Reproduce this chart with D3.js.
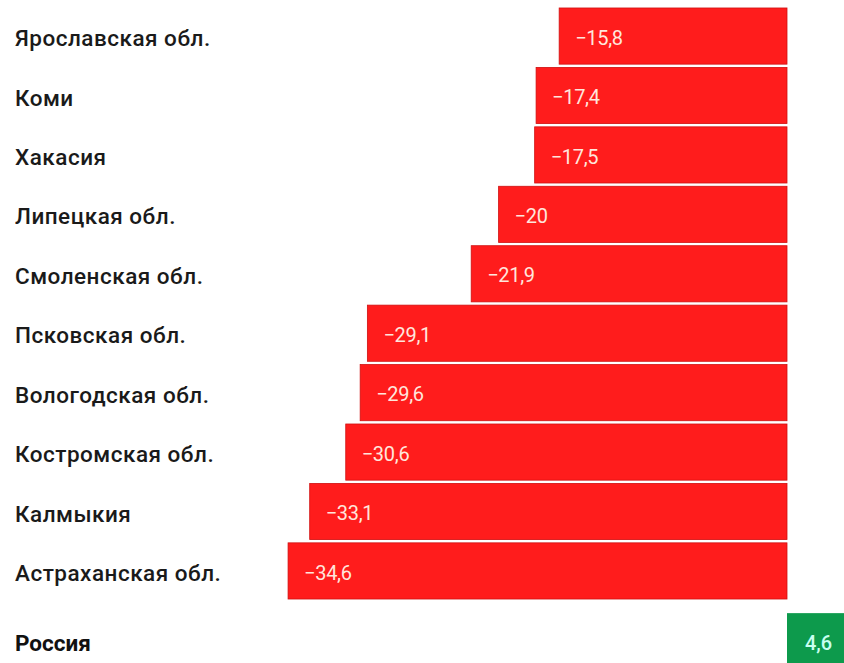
<!DOCTYPE html>
<html><head><meta charset="utf-8">
<script src="https://cdn.jsdelivr.net/npm/d3@7"></script>
<style>
html,body{margin:0;padding:0;background:#fff;}
svg{display:block;}
</style></head>
<body>
<svg id="c" width="844" height="663"></svg>
<script>
const regions = ["Ярославская обл.","Коми","Хакасия","Липецкая обл.","Смоленская обл.","Псковская обл.","Вологодская обл.","Костромская обл.","Калмыкия","Астраханская обл."];
const values = [-15.8,-17.4,-17.5,-20,-21.9,-29.1,-29.6,-30.6,-33.1,-34.6];
const totalLabel = ["Россия"];
const totalValue = [4.6];

const svg = d3.select("#c");
const zeroX = 787, pxPerUnit = 14.42;
const x = d3.scaleLinear().domain([-35, 5]).range([zeroX - 35*pxPerUnit, zeroX + 5*pxPerUnit]);
const y = d3.scaleBand().domain(regions).range([6.5, 6.5 + regions.length*59.4]).paddingInner(0.055).paddingOuter(0.025);
const yT = d3.scaleBand().domain(totalLabel).range([611.5, 611.5 + 59.4]).paddingInner(0.055).paddingOuter(0.025);
const fmt = v => d3.format(".1~f")(v).replace(".", ",").replace("-", "–");
const font = "Roboto, 'Liberation Sans', sans-serif";

const g = svg.append("g");
g.selectAll("rect.bar").data(regions).join("rect")
  .attr("class","bar")
  .attr("x", (d,i) => x(values[i]))
  .attr("y", d => y(d))
  .attr("width", (d,i) => x(0) - x(values[i]))
  .attr("height", y.bandwidth())
  .attr("fill", "#ff1c1c")
  .attr("stroke", "#d01010").attr("stroke-width", 0.8);

g.selectAll("text.val").data(regions).join("text")
  .attr("class","val")
  .attr("x", (d,i) => x(values[i]) + 16)
  .attr("y", d => y(d) + y.bandwidth()/2 + 1.5)
  .attr("dy", "0.36em")
  .attr("fill", "#ffe6dc")
  .style("font-family", font).style("font-size", "20px").style("letter-spacing", "-0.3px")
  .text((d,i) => fmt(values[i]));

g.selectAll("text.cat").data(regions).join("text")
  .attr("class","cat")
  .attr("x", 15)
  .attr("y", d => y(d) + y.bandwidth()/2 + 2)
  .attr("dy", "0.36em")
  .attr("fill", "#1a1a1a")
  .style("font-family", font).style("font-size", "22.5px").style("font-weight", 500)
  .style("letter-spacing", "0.5px")
  .text(d => d);

g.selectAll("rect.tot").data(totalLabel).join("rect")
  .attr("class","tot")
  .attr("x", x(0))
  .attr("y", d => yT(d))
  .attr("width", (d,i) => x(totalValue[i]) - x(0))
  .attr("height", yT.bandwidth())
  .attr("fill", "#0d9a4c");

g.selectAll("text.totval").data(totalLabel).join("text")
  .attr("class","totval")
  .attr("x", x(0) + 18)
  .attr("y", d => yT(d) + 30)
  .attr("dy", "0.36em")
  .attr("fill", "#c8fff0")
  .style("font-family", font).style("font-size", "20px").style("font-weight", 500)
  .text((d,i) => fmt(totalValue[i]));

g.selectAll("text.totcat").data(totalLabel).join("text")
  .attr("class","totcat")
  .attr("x", 15)
  .attr("y", d => yT(d) + 30)
  .attr("dy", "0.36em")
  .attr("fill", "#111")
  .style("font-family", font).style("font-size", "22.5px").style("font-weight", 700)
  .text(d => d);
</script>
</body></html>
